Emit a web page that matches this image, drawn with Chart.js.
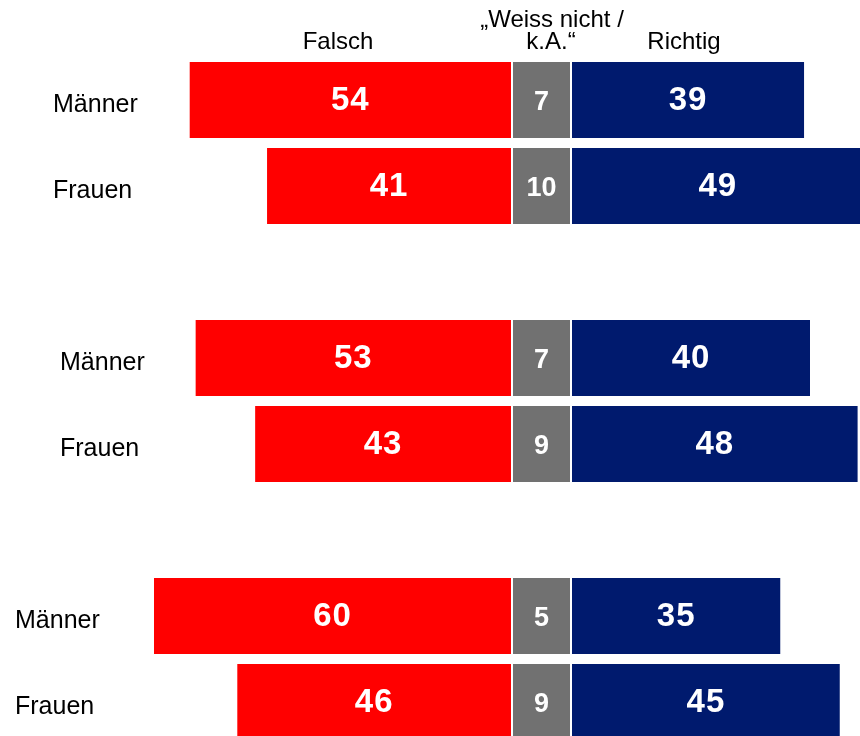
<!DOCTYPE html>
<html>
<head>
<meta charset="utf-8">
<script src="https://cdn.jsdelivr.net/npm/chart.js@4/dist/chart.umd.min.js"></script>
<style>
  html, body { margin: 0; padding: 0; background: #fff; overflow: hidden; }
  #wrap { width: 860px; height: 745px; position: relative; }
</style>
</head>
<body>
<div id="wrap"><canvas id="c" width="860" height="745"></canvas></div>
<script>
// ---- data ----
const categories = ['Männer', 'Frauen', '', 'Männer', 'Frauen', '', 'Männer', 'Frauen'];
const falsch     = [54, 41, null, 53, 43, null, 60, 46];
const weissNicht = [7, 10, null, 7, 9, null, 5, 9];
const richtig    = [39, 49, null, 40, 48, null, 35, 45];
const headerFalsch = ['Falsch'];
const headerWeiss  = ['„Weiss nicht /', 'k.A.“'];
const headerRichtig = ['Richtig'];

// ---- layout constants ----
const ZERO_PX = 511, UNIT_PX = 5.95, W = 860;
const X_MIN = -ZERO_PX / UNIT_PX, X_MAX = (W - ZERO_PX) / UNIT_PX;
const GRAY_START = 2 / UNIT_PX, GRAY_END = 59 / UNIT_PX, BLUE_START = 61 / UNIT_PX;
const labelX = [53, 53, 0, 60, 60, 0, 15, 15];
const FONT = '"Liberation Sans", Arial, Helvetica, sans-serif';

const redData  = falsch.map(v => v == null ? null : [-v, 0]);
const grayData = weissNicht.map(v => v == null ? null : [GRAY_START, GRAY_END]);
const blueData = richtig.map(v => v == null ? null : [BLUE_START, BLUE_START + v]);

const labelPlugin = {
  id: 'labels',
  afterDatasetsDraw(chart) {
    const ctx = chart.ctx;
    const yScale = chart.scales.y;
    ctx.save();
    // category labels
    ctx.fillStyle = '#000';
    ctx.font = '25px ' + FONT;
    ctx.textAlign = 'left';
    ctx.textBaseline = 'alphabetic';
    categories.forEach((c, i) => {
      if (!c) return;
      ctx.fillText(c, labelX[i], yScale.getPixelForValue(i) + 12);
    });
    // headers
    ctx.font = '24px ' + FONT;
    ctx.textAlign = 'center';
    ctx.fillText(headerFalsch[0], 338, 49);
    ctx.fillText(headerWeiss[0], 552, 27);
    ctx.fillText(headerWeiss[1], 551, 49);
    ctx.fillText(headerRichtig[0], 684, 49);
    // value labels
    const values = [falsch, weissNicht, richtig];
    chart.data.datasets.forEach((ds, di) => {
      const meta = chart.getDatasetMeta(di);
      meta.data.forEach((el, i) => {
        const v = values[di][i];
        if (v == null) return;
        const cx = (el.x + el.base) / 2;
        ctx.fillStyle = '#fff';
        ctx.font = (di === 1 ? 'bold 27px ' : 'bold 33px ') + FONT;
        ctx.letterSpacing = di === 1 ? '0px' : '1px';
        ctx.textAlign = 'center';
        ctx.textBaseline = 'middle';
        ctx.fillText(String(v), cx, el.y + (di === 1 ? 3 : 1));
      });
    });
    ctx.restore();
  }
};

new Chart(document.getElementById('c'), {
  type: 'bar',
  data: {
    labels: categories,
    datasets: [
      { label: 'Falsch', data: redData, backgroundColor: '#FF0000' },
      { label: 'Weiss nicht / k.A.', data: grayData, backgroundColor: '#717171' },
      { label: 'Richtig', data: blueData, backgroundColor: '#001A6E' }
    ]
  },
  options: {
    indexAxis: 'y',
    responsive: false,
    animation: false,
    devicePixelRatio: 1,
    layout: { padding: { top: 57, bottom: 0, left: 0, right: 0 } },
    datasets: { bar: { grouped: false, barPercentage: 76 / 86, categoryPercentage: 1, borderWidth: 0 } },
    scales: {
      x: { display: false, min: X_MIN, max: X_MAX, grid: { display: false } },
      y: { display: false, grid: { display: false }, offset: true }
    },
    plugins: { legend: { display: false }, tooltip: { enabled: false }, title: { display: false } }
  },
  plugins: [labelPlugin]
});
</script>
</body>
</html>
